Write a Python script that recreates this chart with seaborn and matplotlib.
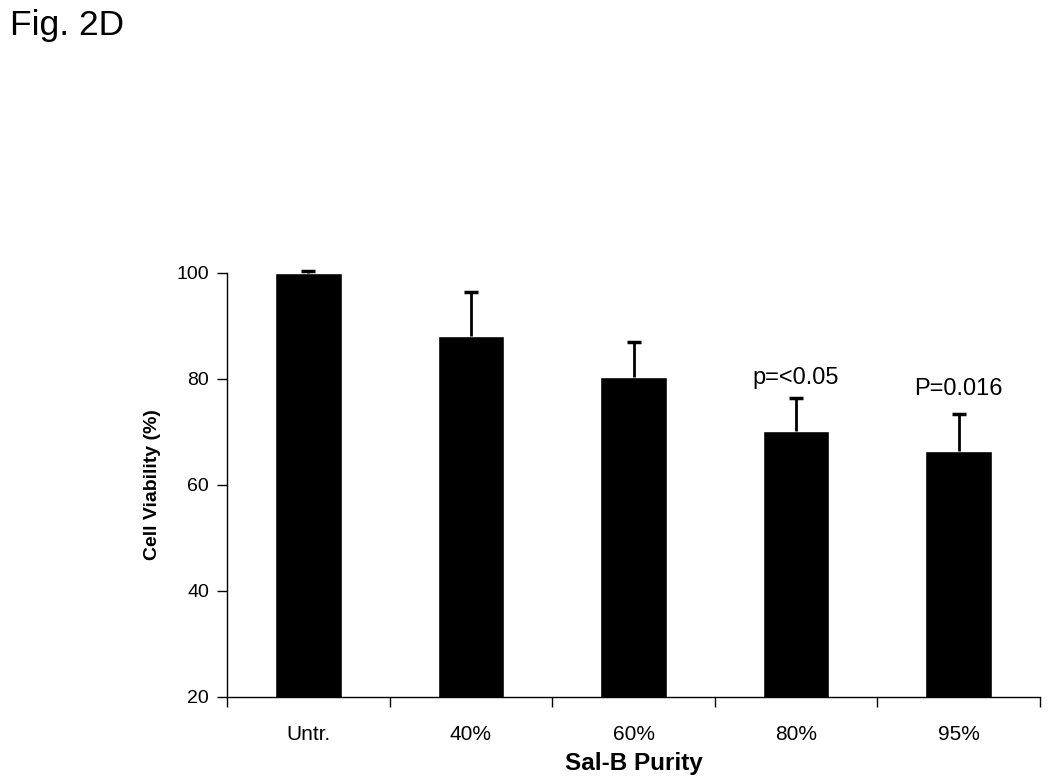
import matplotlib
matplotlib.use('Agg')
import matplotlib.pyplot as plt
import seaborn as sns
import pandas as pd
import numpy as np

# data
groups = ['Untr.', '40%', '60%', '80%', '95%']
viability = [100.0, 88.1, 80.3, 70.2, 66.4]
sd_upper = [0.3, 8.3, 6.6, 6.2, 7.0]
annot_groups = ['80%', '95%']
annot_text = ['p=<0.05', 'P=0.016']
annot_y = [79.1, 77.0]
y_ticks = [20, 40, 60, 80, 100]

sns.set_style('white')
plt.rcParams['font.family'] = ['Liberation Sans', 'DejaVu Sans']
plt.rcParams['text.color'] = 'black'
plt.rcParams['axes.labelcolor'] = 'black'
plt.rcParams['xtick.color'] = 'black'
plt.rcParams['ytick.color'] = 'black'

df = pd.DataFrame({'group': groups, 'viability': viability})

fig = plt.figure(figsize=(10.5, 7.81), dpi=100)
ax = fig.add_axes([0.2162, 0.1076, 0.7743, 0.5429])

sns.barplot(data=df, x='group', y='viability', order=groups, color='black',
            saturation=1, width=0.41, errorbar=None, ax=ax)

# upper-only error bars with a cap
x = np.arange(len(groups))
tops = np.array(viability) + np.array(sd_upper)
ax.vlines(x, viability, tops, colors='black', linewidth=2, clip_on=False)
ax.scatter(x, tops, marker='_', s=110, linewidths=2.5, color='black',
           clip_on=False, zorder=3)

for g, t, yy in zip(annot_groups, annot_text, annot_y):
    ax.text(groups.index(g), yy, t, ha='center', va='baseline', fontsize=17)

ax.set_ylim(20, 100)
ax.set_xlim(-0.5, len(groups) - 0.5)
ax.set_yticks(y_ticks)
ax.set_yticklabels([str(v) for v in y_ticks], fontsize=14)
ax.set_xticks(x)
ax.set_xticklabels(groups, fontsize=15)
ax.set_xticks(np.arange(-0.5, len(groups)), minor=True)
ax.tick_params(axis='x', which='major', length=0, pad=20)
ax.tick_params(axis='x', which='minor', bottom=True, length=7, width=1,
               direction='out', color='black')
ax.tick_params(axis='y', length=7, width=1, direction='out', color='black',
               left=True, pad=6)

for s in ['top', 'right']:
    ax.spines[s].set_visible(False)
for s in ['left', 'bottom']:
    ax.spines[s].set_color('black')
    ax.spines[s].set_linewidth(1)

ax.set_xlabel('Sal-B Purity', fontsize=17.5, fontweight='bold', labelpad=6)
ax.set_ylabel('Cell Viability (%)', fontsize=14, fontweight='bold', labelpad=11)

fig.text(0.0095, 0.955, 'Fig. 2D', fontsize=25.5, ha='left', va='baseline')

fig.savefig('out.png', dpi=100, facecolor='white')
